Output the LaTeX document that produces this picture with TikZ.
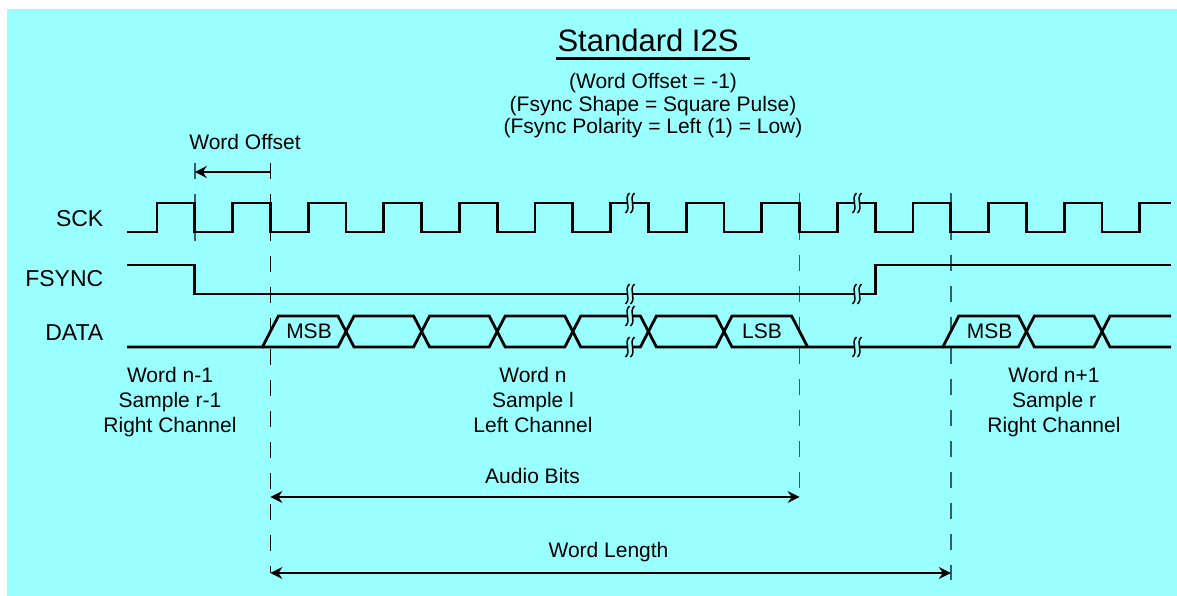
\documentclass[tikz,border=0pt]{standalone}
\usepackage{fontspec}
\setmainfont{Liberation Sans}
\usetikzlibrary{arrows.meta, calc}
\definecolor{bgcyan}{RGB}{153,255,255}
\definecolor{guidegray}{RGB}{55,95,95}

\begin{document}
\begin{tikzpicture}[x=1pt, y=-1pt,
  >={Stealth[length=12pt, width=12pt, inset=4pt]},
  wave/.style={line width=2.8pt, line join=miter},
  guide/.style={line width=1.4pt, dash pattern=on 16pt off 15pt},
  dim/.style={line width=1.4pt},
  lbl/.style={font=\fontsize{21}{25}\selectfont, anchor=base, inner sep=0pt},
  sig/.style={font=\fontsize{23}{27}\selectfont, anchor=base east, inner sep=0pt},
  brk/.pic={
    \fill[bgcyan] (-0.5,-10) .. controls (-7,-4) and (2,4) .. (-4.5,10)
      -- (0.5,10) .. controls (7,4) and (-2,-4) .. (4.5,-10) -- cycle;
    \draw[line width=1.5pt] (-0.5,-10) .. controls (-7,-4) and (2,4) .. (-4.5,10);
    \draw[line width=1.5pt] (4.5,-10) .. controls (-2,-4) and (7,4) .. (0.5,10);
  }]
  \useasboundingbox (0,0) rectangle (1177,596);
  \fill[bgcyan] (7,9) rectangle (1177,596);

  % Titre
  \node[lbl, font=\fontsize{31}{36}\selectfont] (title) at (648,51.7) {Standard I2S};
  \draw[line width=3pt] ($(title.base west)+(-1,6.5)$) -- ($(title.base east)+(11,6.5)$);
  \node[lbl] (offset) at (653,89) {(Word Offset = -1)};
  \node[lbl] (shape) at (653,111.3) {(Fsync Shape = Square Pulse)};
  \node[lbl] (polarity) at (653,133.3) {(Fsync Polarity = Left (1) = Low)};

  % Reperes
  \coordinate (wo1) at (194.8,172);
  \coordinate (wo2) at (270.4,172);
  \coordinate (ab1) at (270.4,497);
  \coordinate (ab2) at (799.6,497);
  \coordinate (wl1) at (270.4,573);
  \coordinate (wl2) at (950.8,573);
  \draw[guide, guidegray] (194.8,163) -- (194.8,250);
  \draw[guide] (270.4,163) -- (wl1);
  \draw[guide, guidegray] (799.6,193) -- (ab2);
  \draw[guide, guidegray] (950.8,193) -- (950.8,580);

  % Signaux
  \node[sig] (sck) at (103.5,226.5) {SCK};
  \node[sig] (fsync) at (103.5,286) {FSYNC};
  \node[sig] (data) at (103.5,340.5) {DATA};

  % SCK
  \draw[wave] (127,232) \foreach \k in {0,...,12} {
      -- ({157+75.6*\k},232) -- ({157+75.6*\k},203)
      -- ({194.8+75.6*\k},203) -- ({194.8+75.6*\k},232)}
    -- (1139.8,232) -- (1139.8,203) -- (1171,203);

  % FSYNC
  \draw[wave] (127,265) -- (194.8,265) -- (194.8,294) -- (875.2,294)
    -- (875.2,265) -- (1171,265);

  % DATA
  \draw[wave] (127,347) -- (262.4,347) -- (278.4,316) -- (338,316) -- (354,347)
    -- (413.6,347) -- (429.6,316) -- (489.2,316) -- (505.2,347) -- (564.8,347)
    -- (580.8,316) -- (640.4,316) -- (656.4,347) -- (716,347) -- (732,316)
    -- (791.6,316) -- (807.6,347);
  \draw[wave] (262.4,347) -- (338,347) -- (354,316) -- (413.6,316) -- (429.6,347)
    -- (489.2,347) -- (505.2,316) -- (564.8,316) -- (580.8,347) -- (640.4,347)
    -- (656.4,316) -- (716,316) -- (732,347) -- (942.8,347) -- (958.8,316)
    -- (1018.4,316) -- (1034.4,347) -- (1094,347) -- (1110,316) -- (1171,316);
  \draw[wave] (942.8,347) -- (1018.4,347) -- (1034.4,316) -- (1094,316)
    -- (1110,347) -- (1171,347);
  \node[lbl] (msb) at (309,338) {MSB};
  \node[lbl] (lsb) at (762,338) {LSB};
  \node[lbl] (msbnext) at (989.5,338) {MSB};

  % Coupures
  \foreach \bx/\by in {630/203, 857/203, 630/294, 857/294, 630/316, 630/347, 857/347}
    \pic at (\bx,\by) {brk};

  % Mots
  \foreach \cx/\w/\s/\ch [count=\i] in {170/n-1/r-1/Right, 533/n/l/Left, 1054/n+1/r/Right} {
    \node[lbl] (word\i) at (\cx,382.7) {Word \w};
    \node[lbl] (sample\i) at (\cx,407.5) {Sample \s};
    \node[lbl] (channel\i) at (\cx,432.5) {\ch{} Channel};
  }

  % Cotes
  \node[lbl] (wolabel) at (245,150) {Word Offset};
  \draw[dim, ->] (wo2) -- (wo1);
  \node[lbl] (ablabel) at (532.5,483.5) {Audio Bits};
  \draw[dim, <->] (ab1) -- (ab2);
  \node[lbl] (wllabel) at (608.5,557.5) {Word Length};
  \draw[dim, <->] (wl1) -- (wl2);
\end{tikzpicture}
\end{document}
